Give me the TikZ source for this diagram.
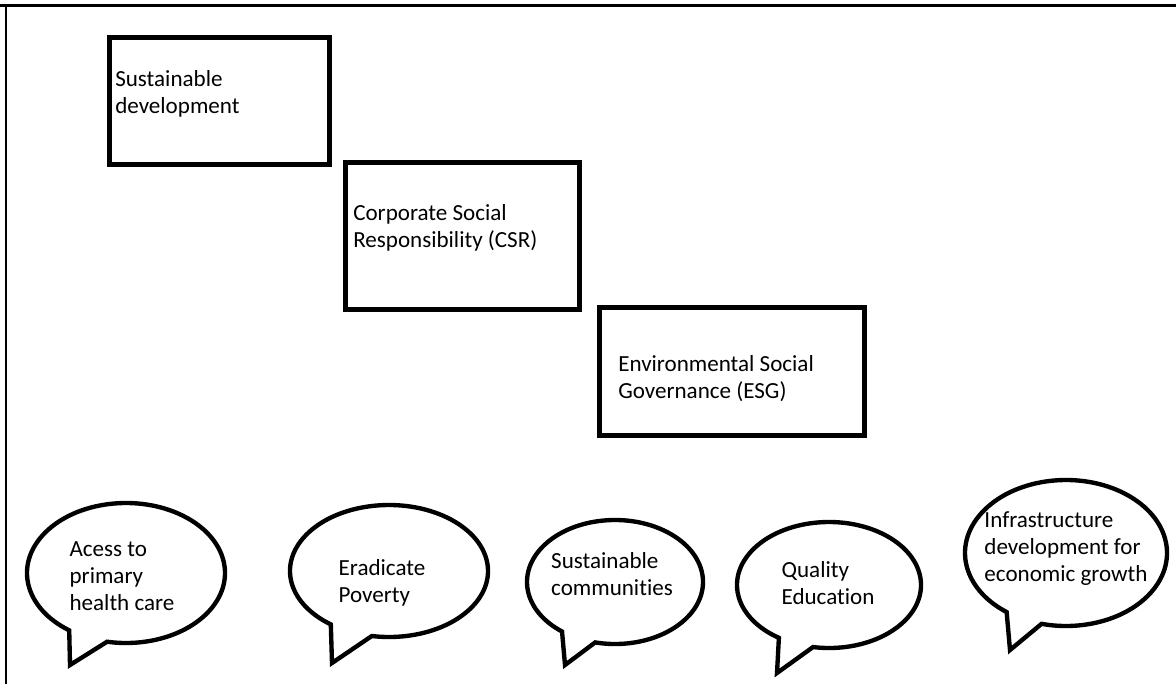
\documentclass[tikz,border=0pt]{standalone}
\usepackage{fontspec}
\setmainfont{Carlito}[Ligatures=NoCommon]

\tikzset{
  panel/.style={line width=3.6pt, black},
  bubble/.style={line width=3.1pt, black},
  boxtext/.style={align=left, inner sep=0pt, font=\fontsize{16.4}{19.2}\selectfont},
}

\begin{document}
\begin{tikzpicture}[x=0.025cm, y=-0.025cm]
			\useasboundingbox (0,0) rectangle (1176,684);

			% frame
			\draw [line width=2pt, black] (0,5.5) -- (1176,5.5);
			\draw [line width=1.4pt, black] (6,5.5) -- (6,684);

			% the three stepped boxes
			\draw [panel] (109.5,37.5) rectangle (329.5,164.5);
			\draw [panel] (345.5,162.5) rectangle (579.5,309.5);
			\draw [panel] (599.5,307.5) rectangle (864.5,435.5);

			\node [boxtext, anchor=north west] (sd) at (115,70) {Sustainable\\development};
			\node [boxtext, anchor=north west] (csr) at (353,204) {Corporate Social\\Responsibility (CSR)};
			\node [boxtext, anchor=north west] (esg) at (618,355) {Environmental Social\\Governance (ESG)};

			% speech bubbles
			\coordinate (acctip) at (70,665);
			\coordinate (povtip) at (332,663);
			\coordinate (comtip) at (565,665);
			\coordinate (edutip) at (777,673);
			\coordinate (inftip) at (1010,650);

			\draw [bubble] (126,573) ++(125:99 and 70) arc [start angle=125, end angle=461, x radius=99, y radius=70] -- (acctip) -- cycle;
			\draw [bubble] (389,571) ++(126:99 and 66) arc [start angle=126, end angle=460, x radius=99, y radius=66] -- (povtip) -- cycle;
			\draw [bubble] (615,582) ++(127:88 and 62) arc [start angle=127, end angle=463, x radius=88, y radius=62] -- (comtip) -- cycle;
			\draw [bubble] (829,585) ++(123:92 and 63) arc [start angle=123, end angle=460, x radius=92, y radius=63] -- (edutip) -- cycle;
			\draw [bubble] (1066,553) ++(126:101 and 73) arc [start angle=126, end angle=464, x radius=101, y radius=73] -- (inftip) -- cycle;

			\node [boxtext] (acc) at (122,576) {Acess to\\primary\\health care};
			\node [boxtext] (pov) at (382,583) {Eradicate\\Poverty};
			\node [boxtext] (com) at (612,574) {Sustainable\\communities};
			\node [boxtext] (edu) at (828,583) {Quality\\Education};
			\node [boxtext] (inf) at (1066,549) {Infrastructure\\development for\\economic growth};
\end{tikzpicture}
\end{document}
